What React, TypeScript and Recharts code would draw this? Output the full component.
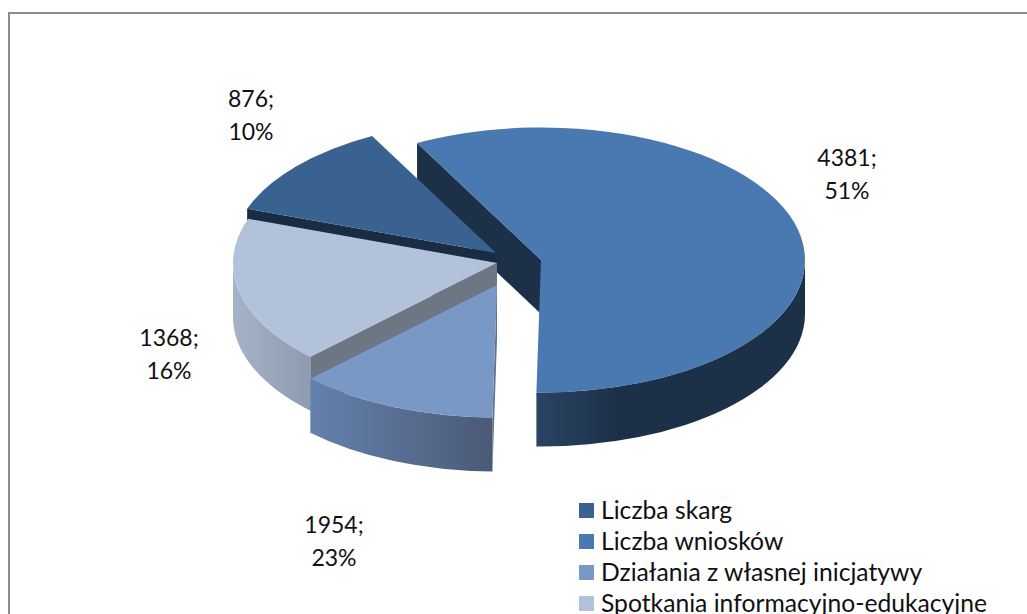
import React from "react";
import { PieChart, Pie, Legend } from "recharts";

// ---- data ----
const categories = ["Liczba skarg", "Liczba wniosków", "Działania z własnej inicjatywy", "Spotkania informacyjno-edukacyjne"];
const values = [876, 4381, 1954, 1368];
const percents = ["10%", "51%", "23%", "16%"];

const rows = categories.map((name, i) => ({ name, value: values[i], percent: percents[i] }));

// ---- styling ----
const WIDTH = 1027;
const HEIGHT = 614;
const CX = 497;
const CY = 263;
const RX = 264;
const TILT = 132.5 / 264;
const DEPTH = 54;
const FONT = "Lato, 'Open Sans', sans-serif";

const topColors = ["#3A6290", "#4A78B0", "#7A98C6", "#B3C2DB"];
const faceColors = ["#1A2C44", "#1C3148", "#5E7391", "#6D7683"];
const wallStops = [
  ["#1A2C44", "#1A2C44"],
  ["#2A4464", "#1C3148"],
  ["#6581AD", "#4A5A76"],
  ["#A6B2C7", "#8E9BB0"],
];
const explode = [
  [-1, -10],
  [44, -3],
  [0, 22],
  [0, 0],
];
const labelAt = [
  [-246, -156],
  [350, -97],
  [-163, 270],
  [-328, 83],
];
// Screen sweep of the tilted pie: where each slice boundary lands on the ellipse
// (degrees clockwise from the top), as read from the picture's perspective.
const screenKnots = [-70.5, -28, 181, 225, 289.5];
const paintOrder = [1, 0, 3, 2];

const total = values.reduce((a, b) => a + b, 0);
const dataKnots = [0];
values.forEach((v, i) => dataKnots.push(dataKnots[i] + (v / total) * 360));

function project(rechartsAngle: number) {
  const d = 90 - rechartsAngle;
  for (let i = 0; i < values.length; i++) {
    if (d <= dataKnots[i + 1] + 1e-6) {
      const f = (d - dataKnots[i]) / (dataKnots[i + 1] - dataKnots[i]);
      return screenKnots[i] + f * (screenKnots[i + 1] - screenKnots[i]);
    }
  }
  return screenKnots[values.length];
}

const rad = (t: number) => (t * Math.PI) / 180;

function Slice(props: any) {
  const { index, cx, cy, outerRadius, startAngle, endAngle } = props;
  const t1 = project(startAngle);
  const t2 = project(endAngle);
  const ox = cx + explode[index][0];
  const oy = cy + explode[index][1];
  const rx = outerRadius;
  const ry = outerRadius * TILT;
  const px = (t: number) => ox + rx * Math.sin(rad(t));
  const py = (t: number) => oy - ry * Math.cos(rad(t));
  const top = `M${ox},${oy} L${px(t1)},${py(t1)} A${rx},${ry} 0 ${t2 - t1 > 180 ? 1 : 0} 1 ${px(t2)},${py(t2)} Z`;

  const a = Math.max(t1, 90);
  const b = Math.min(t2, 270);
  const showWall = b > a;
  const wall = showWall
    ? `M${px(a)},${py(a)} A${rx},${ry} 0 0 1 ${px(b)},${py(b)} L${px(b)},${py(b) + DEPTH} A${rx},${ry} 0 0 0 ${px(a)},${py(a) + DEPTH} Z`
    : "";
  const showFace = Math.sin(rad(t1)) < 0;
  const face = `M${ox},${oy} L${px(t1)},${py(t1)} L${px(t1)},${py(t1) + DEPTH} L${ox},${oy + DEPTH} Z`;
  const gid = `wall-${index}`;
  return (
    <g>
      <defs>
        <linearGradient id={gid} x1="0" y1="0" x2="1" y2="0">
          <stop offset="0" stopColor={wallStops[index][0]} />
          <stop offset={index === 1 ? "0.3" : "1"} stopColor={wallStops[index][1]} />
        </linearGradient>
      </defs>
      {showFace && <path d={face} fill={faceColors[index]} />}
      {showWall && <path d={wall} fill={`url(#${gid})`} />}
      <path d={top} fill={topColors[index]} />
    </g>
  );
}

function DataLabel(props: any) {
  const { index } = props;
  const x = CX + labelAt[index][0];
  const y = CY + labelAt[index][1];
  return (
    <text x={x} y={y} textAnchor="middle" fontFamily={FONT} fontSize={23} fill="#111">
      <tspan x={x} dy={0}>{`${values[index]};`}</tspan>
      <tspan x={x} dy={33}>{percents[index]}</tspan>
    </text>
  );
}

function LegendBox() {
  return (
    <div style={{ position: "relative", width: 440, height: 117, fontFamily: FONT, fontSize: 24.7, color: "#111" }}>
      {categories.map((c, i) => (
        <div key={c} style={{ position: "absolute", left: 0, top: i * 31, height: 31, whiteSpace: "nowrap" }}>
          <span style={{ position: "absolute", left: 0, top: 6, width: 15, height: 15, background: topColors[i] }} />
          <span style={{ position: "absolute", left: 22, top: -3, lineHeight: "31px" }}>{c}</span>
        </div>
      ))}
    </div>
  );
}

export default function App() {
  return (
    <div style={{ position: "absolute", left: 0, top: 0, width: WIDTH, height: HEIGHT, overflow: "hidden", background: "#fff" }}>
      <div style={{ position: "absolute", left: 8, top: 12, width: WIDTH, height: HEIGHT, borderLeft: "2px solid #8C8C8C", borderTop: "2px solid #8C8C8C" }} />
      <div style={{ position: "absolute", left: 0, top: 0 }}>
        <PieChart width={WIDTH} height={HEIGHT} margin={{ top: 0, right: 0, bottom: 0, left: 0 }}>
          {paintOrder.map((slice, n) => (
            <Pie
              key={slice}
              data={rows}
              dataKey="value"
              nameKey="name"
              cx={CX}
              cy={CY}
              innerRadius={0}
              outerRadius={RX}
              startAngle={90}
              endAngle={-270}
              paddingAngle={0}
              stroke="none"
              isAnimationActive={false}
              labelLine={false}
              label={n === paintOrder.length - 1 ? DataLabel : false}
              shape={(p: any) => (p.index === slice ? <Slice {...p} /> : <g />)}
            />
          ))}
          <Legend
            content={() => <LegendBox />}
            wrapperStyle={{ position: "absolute", left: 579, top: 497, width: 440, height: 117 }}
          />
        </PieChart>
      </div>
    </div>
  );
}
